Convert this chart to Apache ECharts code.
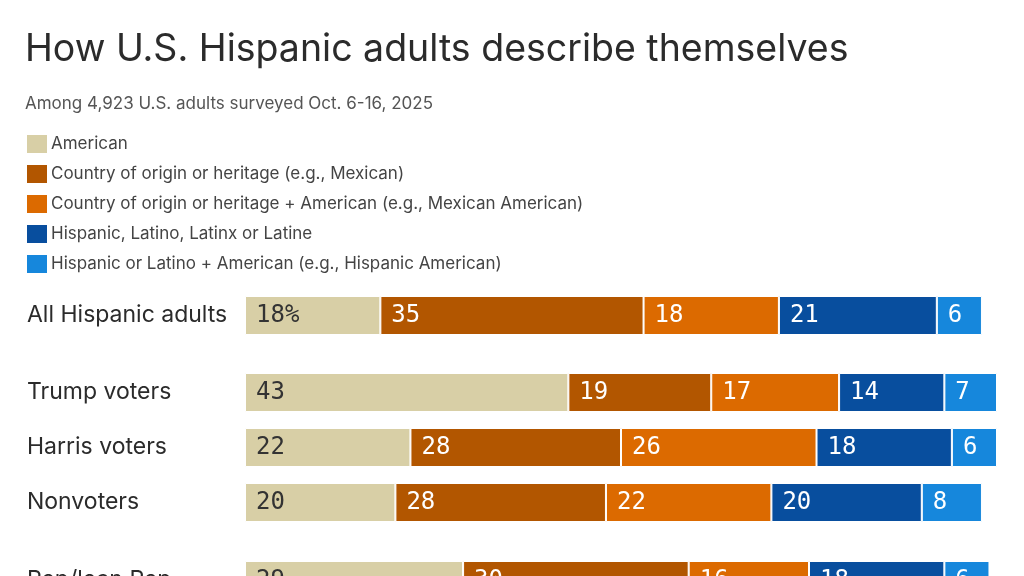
<!DOCTYPE html>
<html>
<head>
<meta charset="utf-8">
<script src="https://cdn.jsdelivr.net/npm/echarts@6/dist/echarts.min.js"></script>
<style>
html,body{margin:0;padding:0;background:#fff;}
#chart{width:1024px;height:576px;}
</style>
</head>
<body>
<div id="chart"></div>
<script>
// ---- Data ----
const rowsAll = ["All Hispanic adults"];
const rowsVoters = ["Trump voters", "Harris voters", "Nonvoters"];
const rowsParty = ["Rep/lean Rep"];
const seriesNames = [
  "American",
  "Country of origin or heritage (e.g., Mexican)",
  "Country of origin or heritage + American (e.g., Mexican American)",
  "Hispanic, Latino, Latinx or Latine",
  "Hispanic or Latino + American (e.g., Hispanic American)"
];
// values in row order: All, Trump, Harris, Nonvoters, Rep/lean Rep
const american         = [18, 43, 22, 20, 29];
const origin           = [35, 19, 28, 28, 30];
const originAmerican   = [18, 17, 26, 22, 16];
const hispanic         = [21, 14, 18, 20, 18];
const hispanicAmerican = [6, 7, 6, 8, 6];

const values = [american, origin, originAmerican, hispanic, hispanicAmerican];
const colors = ["#d8cfa6", "#b25600", "#dc6a00", "#084e9e", "#1687dc"];
const labelColors = ["#333333", "#ffffff", "#ffffff", "#ffffff", "#ffffff"];

const groups = [
  { cats: rowsAll, start: 0 },
  { cats: rowsVoters, start: 1 },
  { cats: rowsParty, start: 4 }
];

const gridLayout = [
  { left: 245, width: 752, top: 296, height: 39, outerBoundsMode: 'none' },
  { left: 245, width: 752, top: 365, height: 165, outerBoundsMode: 'none' },
  { left: 245, width: 752, top: 561, height: 39, outerBoundsMode: 'none' }
];

const xAxes = [], yAxes = [], series = [];
groups.forEach((g, gi) => {
  xAxes.push({ gridIndex: gi, type: 'value', min: 0, max: 100, show: false });
  yAxes.push({
    gridIndex: gi, type: 'category', data: g.cats, inverse: true,
    axisLine: { show: false }, axisTick: { show: false },
    axisLabel: {
      align: 'left', margin: 218, color: '#2b2b2b',
      fontFamily: 'Inter', fontSize: 23
    }
  });
  seriesNames.forEach((name, si) => {
    series.push({
      name: name, type: 'bar', stack: 'g' + gi,
      xAxisIndex: gi, yAxisIndex: gi,
      barWidth: 39,
      data: values[si].slice(g.start, g.start + g.cats.length),
      itemStyle: { color: colors[si], borderColor: '#ffffff', borderWidth: 1 },
      label: {
        show: true, position: 'insideLeft', distance: 11,
        color: labelColors[si],
        fontFamily: 'DejaVu Sans Mono', fontSize: 24,
        formatter: (p) => (gi === 0 && si === 0 && p.dataIndex === 0) ? p.value + '%' : String(p.value)
      },
      emphasis: { disabled: true },
      animation: false
    });
  });
});

const chart = echarts.init(document.getElementById('chart'), null, { renderer: 'canvas' });
chart.setOption({
  backgroundColor: '#ffffff',
  animation: false,
  title: {
    text: 'How U.S. Hispanic adults describe themselves',
    subtext: 'Among 4,923 U.S. adults surveyed Oct. 6-16, 2025',
    left: 20, top: 26,
    itemGap: 26,
    textStyle: { fontFamily: 'Inter', fontSize: 37.5, fontWeight: 400, color: '#2b2b2b' },
    subtextStyle: { fontFamily: 'Inter', fontSize: 17, color: '#555555' }
  },
  legend: {
    data: seriesNames,
    orient: 'vertical',
    left: 25, top: 133,
    padding: 0,
    itemWidth: 22, itemHeight: 20, itemGap: 8,
    icon: 'rect',
    selectedMode: false,
    textStyle: { fontFamily: 'Inter', fontSize: 17, lineHeight: 20, color: '#444444', padding: [0, 0, 0, -2] }
  },
  grid: gridLayout,
  xAxis: xAxes,
  yAxis: yAxes,
  series: series
});
</script>
</body>
</html>
